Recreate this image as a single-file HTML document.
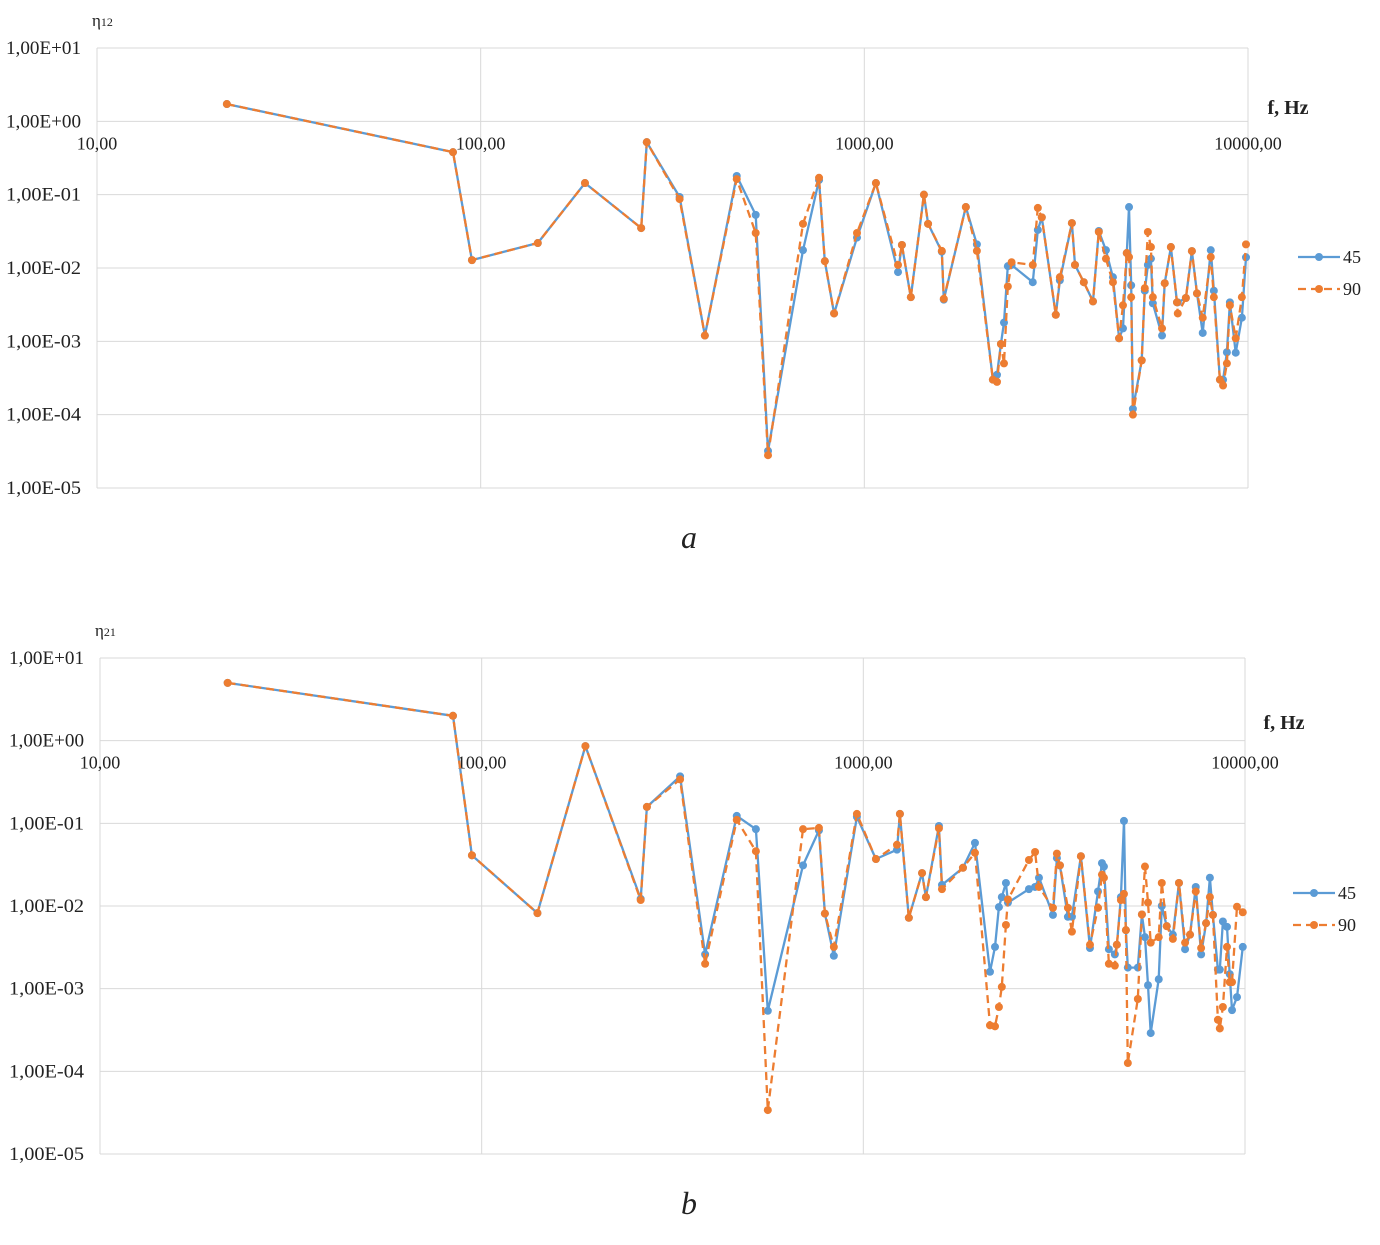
<!DOCTYPE html>
<html><head><meta charset="utf-8"><style>
html,body{margin:0;padding:0;background:#fff;}
svg text{font-family:"Liberation Serif",serif;fill:#222;}
</style></head><body>
<svg id="svg" width="1380" height="1240" xmlns="http://www.w3.org/2000/svg"></svg>
<script>
// ---- Chart a data ----
const freqA = [21.8,84.7,94.9,140.9,187,262,271,330,384,465,521,561,692,762,789,834,957,1072,1224,1253,1322,1430,1466,1592,1611,1839,1965,2163,2217,2270,2312,2366,2420,2748,2833,2901,3155,3233,3475,3540,3733,3944,4085,4263,4446,4613,4722,4831,4897,4960,5012,5284,5383,5483,5585,5649,5970,6067,6295,6531,6561,6887,7141,7362,7621,7998,8147,8450,8610,8810,8970,9290,9638,9880];
const a45 = [1.72,0.38,0.0128,0.0219,0.144,0.035,0.52,0.093,0.0012,0.18,0.053,3.2e-5,0.0175,0.158,0.0124,0.0024,0.026,0.144,0.0088,0.0206,0.004,0.1,0.04,0.0167,0.0037,0.0678,0.021,3e-4,3.5e-4,9.2e-4,0.0018,0.0106,0.011,0.0064,0.033,0.049,0.0023,0.0068,0.041,0.011,0.0064,0.0035,0.032,0.0175,0.0075,0.0011,0.0015,0.016,0.0678,0.0058,1.2e-4,5.5e-4,0.0049,0.011,0.0134,0.0033,0.0012,0.0062,0.0193,0.0034,0.0034,0.0039,0.017,0.0045,0.0013,0.0175,0.0049,3e-4,3e-4,7.1e-4,0.0034,7e-4,0.0021,0.014];
const a90 = [1.72,0.38,0.0128,0.0219,0.144,0.035,0.52,0.087,0.0012,0.163,0.030,2.8e-5,0.040,0.17,0.0124,0.0024,0.030,0.144,0.011,0.0206,0.004,0.1,0.04,0.0171,0.0038,0.0678,0.0171,3e-4,2.8e-4,9.2e-4,5e-4,0.0056,0.012,0.011,0.066,0.049,0.0023,0.0075,0.041,0.011,0.0064,0.0035,0.031,0.0134,0.0064,0.0011,0.0031,0.016,0.0141,0.004,1.0e-4,5.5e-4,0.0053,0.031,0.0193,0.004,0.0015,0.0062,0.0193,0.0034,0.0024,0.0039,0.017,0.0045,0.0021,0.0141,0.004,3e-4,2.5e-4,5e-4,0.0031,0.0011,0.004,0.021];
// ---- Chart b data ----
const freqB = [21.6,84.1,94.3,140,187,261,271,331,385,466,523,562,695,765,793,837,962,1079,1225,1247,1316,1425,1459,1578,1607,1824,1961,2147,2213,2266,2306,2364,2393,2716,2818,2885,3139,3215,3274,3436,3520,3716,3925,4120,4219,4270,4399,4560,4616,4730,4818,4875,4932,5239,5369,5469,5570,5662,5943,6053,6237,6471,6714,6966,7178,7430,7674,7907,8091,8241,8492,8591,8750,8970,9120,9247,9528,9866];
const b45 = [5.0,2.0,0.041,0.0082,0.86,0.0122,0.158,0.37,0.0026,0.123,0.085,5.4e-4,0.031,0.082,0.0081,0.0025,0.12,0.037,0.048,0.13,0.0072,0.025,0.0128,0.093,0.018,0.029,0.058,0.0016,0.0032,0.0097,0.0128,0.019,0.011,0.016,0.017,0.022,0.0078,0.038,0.031,0.0074,0.0074,0.040,0.0031,0.015,0.033,0.030,0.003,0.0026,0.0034,0.0128,0.107,0.0051,0.0018,0.0018,0.0079,0.0042,0.0011,2.9e-4,0.0013,0.010,0.0057,0.0045,0.019,0.003,0.0045,0.017,0.0026,0.0062,0.022,0.0078,0.0017,0.0017,0.0065,0.0056,0.0015,5.5e-4,7.9e-4,0.0032];
const b90 = [5.0,2.0,0.041,0.0082,0.86,0.0118,0.158,0.34,0.002,0.11,0.046,3.4e-5,0.085,0.088,0.0081,0.0032,0.13,0.037,0.055,0.13,0.0072,0.025,0.0128,0.087,0.016,0.029,0.044,3.6e-4,3.5e-4,6e-4,0.00105,0.0059,0.012,0.036,0.045,0.017,0.0095,0.043,0.031,0.0095,0.0049,0.040,0.0034,0.0095,0.024,0.022,0.002,0.0019,0.0034,0.0118,0.014,0.0051,1.26e-4,7.5e-4,0.0079,0.030,0.011,0.0036,0.0042,0.019,0.0057,0.004,0.019,0.0036,0.0045,0.015,0.0031,0.0062,0.0128,0.0078,4.2e-4,3.3e-4,6e-4,0.0032,0.0012,0.0012,0.0098,0.0084];
const yTicks = ["1,00E+01","1,00E+00","1,00E-01","1,00E-02","1,00E-03","1,00E-04","1,00E-05"];
const xTicks = ["10,00","100,00","1000,00","10000,00"];
const seriesNames = ["45","90"];

const NS="http://www.w3.org/2000/svg";
const svg=document.getElementById('svg');
function mk(tag,attrs,parent){const e=document.createElementNS(NS,tag);for(const k in attrs)e.setAttribute(k,attrs[k]);(parent||svg).appendChild(e);return e;}

function chart(cfg){
  const g=mk('g',{});
  
  
  const xs=f=>cfg.x0+(Math.log10(f)-1)/3*(cfg.x1-cfg.x0);
  const ys=v=>cfg.y0+(1-Math.log10(v))/6*(cfg.y1-cfg.y0);
  for(let i=0;i<7;i++){
    const y=ys(Math.pow(10,1-i));
    const l=mk('line',{x1:cfg.x0,x2:cfg.x1,y1:y,y2:y,stroke:'#d9d9d9','stroke-width':1},g);
    
    
    const t=mk('text',{x:cfg.x0-16,y:y+6,'text-anchor':'end','font-size':18.5,textLength:75,lengthAdjust:'spacingAndGlyphs'},g);
    t.textContent=yTicks[i];
    
    
  }
  for(let i=0;i<4;i++){
    const x=xs(Math.pow(10,1+i));
    const l=mk('line',{x1:x,x2:x,y1:cfg.y0,y2:cfg.y1,stroke:'#d9d9d9','stroke-width':1},g);
    
    
    const t=mk('text',{x:x,y:ys(1)+28,'text-anchor':'middle','font-size':18},g);
    t.textContent=xTicks[i];
    
    
  }
  const ft=mk('text',{x:cfg.fx,y:cfg.fy,'text-anchor':'middle','font-size':20,'font-weight':'bold'},g);
  ft.textContent='f, Hz';
  
  
  const yt=mk('text',{x:cfg.x0-5,y:cfg.y0-22,'font-size':17},g);
  yt.textContent='η';
  const sub=mk('tspan',{'font-size':12},yt); sub.textContent=cfg.sub;
  
  
  const series=[[cfg.s45,'#5b9bd5',''],[cfg.s90,'#ed7d31','8,5']];
  series.forEach((s,si)=>{
    const pts=cfg.f.map((f,i)=>xs(f).toFixed(1)+','+ys(s[0][i]).toFixed(1)).join(' ');
    const pl=mk('polyline',{points:pts,fill:'none',stroke:s[1],'stroke-width':2.3,'stroke-dasharray':s[2],'stroke-linejoin':'round'},g);
    
    
    cfg.f.forEach((f,i)=>{
      const c=mk('circle',{cx:xs(f),cy:ys(s[0][i]),r:4,fill:s[1]},g);
      
      
    });
    const ly=cfg.ly+si*32;
    const ll=mk('line',{x1:cfg.lx,x2:cfg.lx+42,y1:ly,y2:ly,stroke:s[1],'stroke-width':2.3,'stroke-dasharray':s[2]},g);
    
    
    mk('circle',{cx:cfg.lx+21,cy:ly,r:4,fill:s[1]},g);
    const lt=mk('text',{x:cfg.lx+45,y:ly+6,'font-size':18},g);
    lt.textContent=seriesNames[si];
    
    
  });
  const cap=mk('text',{x:689,y:cfg.capY,'text-anchor':'middle','font-size':32,'font-style':'italic'},g);
  cap.textContent=cfg.cap;
  
  
}
chart({name:'chart-a',x0:97,x1:1248,y0:48,y1:488,f:freqA,s45:a45,s90:a90,sub:'12',fx:1288,fy:114,lx:1298,ly:257,cap:'a',capY:548});
chart({name:'chart-b',x0:100,x1:1245,y0:658,y1:1154,f:freqB,s45:b45,s90:b90,sub:'21',fx:1284,fy:729,lx:1293,ly:893,cap:'b',capY:1214});
</script>
</body></html>
